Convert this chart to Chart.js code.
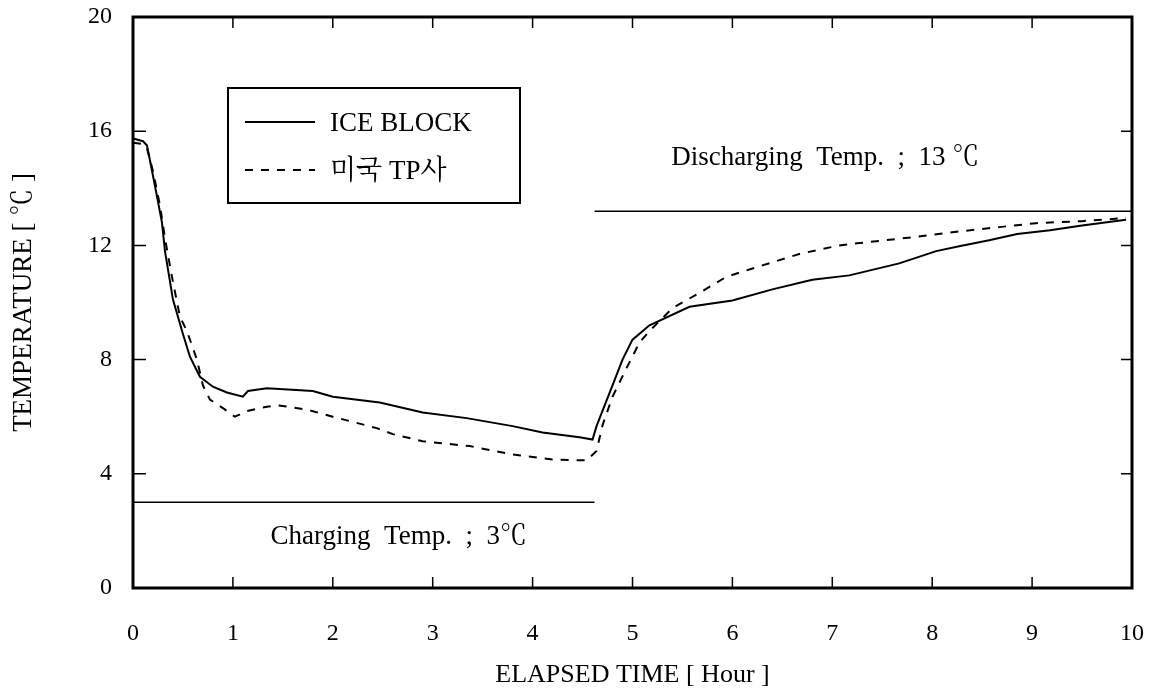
<!DOCTYPE html>
<html>
<head>
<meta charset="utf-8">
<script src="https://cdn.jsdelivr.net/npm/chart.js@4/dist/chart.umd.min.js"></script>
<style>
  html, body { margin: 0; padding: 0; background: #fff; }
  #wrap { width: 1156px; height: 691px; }
</style>
</head>
<body>
<div id="wrap"><canvas id="chart" width="1156" height="691"></canvas></div>
<script>
// data
const iceTime = [0, 0.1, 0.14, 0.18, 0.23, 0.29, 0.32, 0.4, 0.5, 0.57, 0.67, 0.8, 0.94, 1.1, 1.15, 1.34, 1.8, 2.0, 2.47, 2.9, 3.34, 3.8, 4.1, 4.47, 4.6, 4.64, 4.8, 4.9, 5.0, 5.17, 5.57, 6.0, 6.4, 6.8, 7.17, 7.67, 8.04, 8.27, 8.57, 8.85, 9.18, 9.5, 9.94];
const iceTemp = [15.75, 15.65, 15.5, 14.8, 13.9, 12.8, 11.8, 10.1, 8.9, 8.1, 7.4, 7.05, 6.85, 6.7, 6.9, 7.0, 6.9, 6.7, 6.5, 6.15, 5.95, 5.67, 5.45, 5.28, 5.2, 5.67, 7.1, 8.0, 8.7, 9.2, 9.85, 10.07, 10.46, 10.8, 10.95, 11.37, 11.8, 11.97, 12.18, 12.4, 12.53, 12.7, 12.9];

const tpTime = [0, 0.1, 0.14, 0.2, 0.27, 0.32, 0.39, 0.47, 0.54, 0.64, 0.7, 0.77, 0.9, 1.02, 1.14, 1.34, 1.45, 1.74, 2.0, 2.44, 2.6, 2.9, 3.37, 3.8, 4.2, 4.54, 4.64, 4.7, 4.77, 4.8, 4.94, 5.07, 5.17, 5.4, 5.7, 5.94, 6.3, 6.67, 7.07, 7.27, 7.84, 8.3, 8.67, 9.04, 9.5, 9.94];
const tpTemp = [15.6, 15.55, 15.4, 14.6, 13.4, 12.25, 10.9, 9.5, 9.0, 8.0, 7.1, 6.6, 6.3, 6.0, 6.2, 6.35, 6.4, 6.25, 6.0, 5.6, 5.39, 5.14, 4.97, 4.68, 4.5, 4.47, 4.8, 5.7, 6.4, 6.7, 7.7, 8.6, 9.0, 9.8, 10.4, 10.9, 11.3, 11.7, 12.0, 12.08, 12.3, 12.5, 12.64, 12.78, 12.85, 12.96];

const chargeX = [0, 4.62];
const chargeY = [3, 3];
const dischargeX = [4.62, 10];
const dischargeY = [13.2, 13.2];

const xTicks = [0, 1, 2, 3, 4, 5, 6, 7, 8, 9, 10];
const yTicks = [0, 4, 8, 12, 16, 20];

const seriesNames = ['ICE BLOCK', '미국 TP사'];
const chargeText = 'Charging  Temp.  ;  3℃';
const dischargeText = 'Discharging  Temp.  ;  13 ℃';

const serif = '"Liberation Serif", "Noto Serif CJK KR", "Noto Sans CJK KR", serif';

const pts = (xs, ys) => xs.map((x, i) => ({ x: x, y: ys[i] }));

// frame, inward ticks, legend box and the two notes
const decor = {
  id: 'decor',
  afterDraw(chart) {
    const ctx = chart.ctx;
    const a = chart.chartArea;
    const sx = chart.scales.x, sy = chart.scales.y;
    ctx.save();
    ctx.strokeStyle = '#000';
    ctx.lineWidth = 3;
    ctx.strokeRect(a.left, a.top, a.right - a.left, a.bottom - a.top);

    ctx.lineWidth = 1.5;
    ctx.beginPath();
    xTicks.slice(1, -1).forEach(v => {
      const px = sx.getPixelForValue(v);
      ctx.moveTo(px, a.bottom); ctx.lineTo(px, a.bottom - 11);
      ctx.moveTo(px, a.top); ctx.lineTo(px, a.top + 11);
    });
    yTicks.slice(1, -1).forEach(v => {
      const py = sy.getPixelForValue(v);
      ctx.moveTo(a.left, py); ctx.lineTo(a.left + 13, py);
      ctx.moveTo(a.right, py); ctx.lineTo(a.right - 11, py);
    });
    ctx.stroke();

    // legend
    const bx = a.left + 95, by = a.top + 71, bw = 292, bh = 115;
    ctx.lineWidth = 2;
    ctx.strokeRect(bx, by, bw, bh);
    ctx.font = '27px ' + serif;
    ctx.fillStyle = '#000';
    ctx.textBaseline = 'middle';
    ctx.textAlign = 'left';
    [0, 1].forEach(i => {
      const ds = chart.data.datasets[i];
      const ly = by + (i === 0 ? 34 : 82);
      ctx.beginPath();
      ctx.lineWidth = 2;
      ctx.setLineDash(ds.borderDash || []);
      ctx.moveTo(bx + 17, ly); ctx.lineTo(bx + 87, ly);
      ctx.stroke();
      ctx.setLineDash([]);
      ctx.fillText(ds.label, bx + 102, ly + 2);
    });

    // notes
    ctx.font = '27px ' + serif;
    ctx.textAlign = 'center';
    ctx.fillText(chargeText, sx.getPixelForValue(2.66), sy.getPixelForValue(1.8));
    ctx.fillText(dischargeText, sx.getPixelForValue(6.93), sy.getPixelForValue(15.05));
    ctx.restore();
  }
};

new Chart(document.getElementById('chart'), {
  type: 'line',
  data: {
    datasets: [
      { label: seriesNames[0], data: pts(iceTime, iceTemp), borderColor: '#000', borderWidth: 2, pointRadius: 0, tension: 0, fill: false },
      { label: seriesNames[1], data: pts(tpTime, tpTemp), borderColor: '#000', borderWidth: 2, borderDash: [8, 8], pointRadius: 0, tension: 0, fill: false },
      { label: 'charge', data: pts(chargeX, chargeY), borderColor: '#000', borderWidth: 1.5, pointRadius: 0 },
      { label: 'discharge', data: pts(dischargeX, dischargeY), borderColor: '#000', borderWidth: 1.5, pointRadius: 0 }
    ]
  },
  options: {
    responsive: false,
    animation: false,
    layout: { padding: { left: 0, top: 17, right: 24, bottom: 0 } },
    plugins: { legend: { display: false }, tooltip: { enabled: false } },
    scales: {
      x: {
        type: 'linear', min: 0, max: 10,
        afterFit: s => { s.height = 103; s.paddingLeft = 0; s.paddingRight = 0; },
        afterBuildTicks: s => { s.ticks = xTicks.map(v => ({ value: v })); },
        grid: { display: false, drawTicks: false },
        border: { display: false },
        ticks: { color: '#000', padding: 31, font: { family: serif, size: 24 } },
        title: { display: true, text: 'ELAPSED TIME [ Hour ]', color: '#000', padding: 0, font: { family: serif, size: 26 } }
      },
      y: {
        type: 'linear', min: 0, max: 20,
        afterFit: s => { s.width = 133; s.paddingTop = 0; s.paddingBottom = 0; },
        afterBuildTicks: s => { s.ticks = yTicks.map(v => ({ value: v })); },
        grid: { display: false, drawTicks: false },
        border: { display: false },
        ticks: { color: '#000', padding: 21, font: { family: serif, size: 24 } },
        title: { display: true, text: 'TEMPERATURE [ ℃ ]', color: '#000', padding: { top: 8 }, font: { family: serif, size: 27 } }
      }
    }
  },
  plugins: [decor]
});
</script>
</body>
</html>
